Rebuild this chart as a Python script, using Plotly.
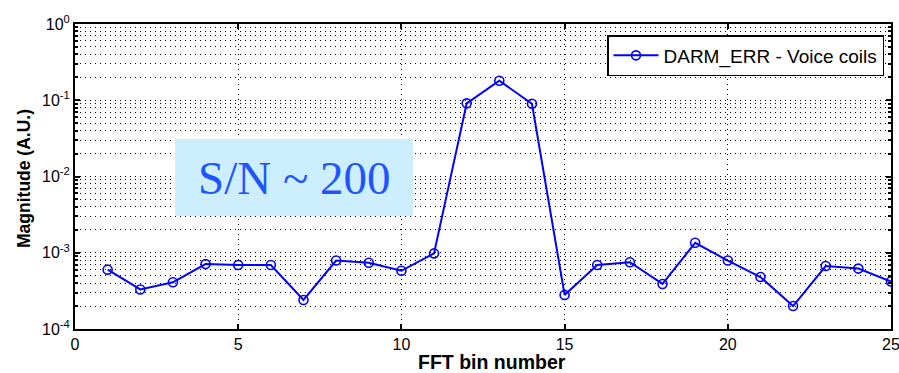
import plotly.graph_objects as go

bins = list(range(1, 26))
magnitude = [6.0e-4, 3.3e-4, 4.1e-4, 7.1e-4, 6.9e-4, 6.9e-4, 2.4e-4, 7.9e-4, 7.4e-4, 5.8e-4,
             9.8e-4, 0.091, 0.18, 0.09, 2.8e-4, 6.9e-4, 7.5e-4, 3.9e-4, 1.35e-3, 7.9e-4,
             4.8e-4, 2.0e-4, 6.7e-4, 6.2e-4, 4.2e-4]
series_name = "DARM_ERR - Voice coils"
y_tickvals = [1e-4, 1e-3, 1e-2, 1e-1, 1]
y_ticktext = ["10<sup>-4</sup>", "10<sup>-3</sup>", "10<sup>-2</sup>", "10<sup>-1</sup>", "10<sup>0</sup>"]
x_tickvals = [0, 5, 10, 15, 20, 25]
minor_vals = [m * 10 ** e for e in range(-4, 0) for m in range(2, 10)]

font_family = "Liberation Sans, Arial, sans-serif"
blue = "#0000ff"

# body margin is removed by post_script, so the figure fills the window
W, H = 899, 373
L, T = 75, 24
R = W - 891
B = H - 329
PW, PH = W - L - R, H - T - B


def px(xs):
    return (xs - L) / PW


def py(ys):
    return (H - B - ys) / PH


fig = go.Figure()
fig.add_trace(go.Scatter(
    x=bins, y=magnitude, mode="lines+markers", name=series_name,
    line=dict(color=blue, width=2),
    marker=dict(symbol="circle-open", size=9, color=blue, line=dict(width=1.6, color=blue)),
))

grid = dict(showgrid=True, gridcolor="black", gridwidth=1, griddash="1px,4px")

fig.update_layout(
    width=W, height=H,
    margin=dict(l=L, r=R, t=T, b=B, autoexpand=False),
    paper_bgcolor="white", plot_bgcolor="white",
    font=dict(family=font_family, color="black", size=16),
    showlegend=True,
    legend=dict(x=px(884), y=py(35), xanchor="right", yanchor="top",
                bgcolor="white", bordercolor="black", borderwidth=1.5,
                font=dict(size=19, family=font_family),
                tracegroupgap=0, itemwidth=45),
    xaxis=dict(range=[0, 25], tickvals=x_tickvals, ticks="inside", ticklen=5,
               tickwidth=1.5, tickcolor="black", automargin=False,
               ticklabeloverflow="allow",
               showline=True, linecolor="black", linewidth=2, mirror="ticks",
               zeroline=False, tickfont=dict(size=16), **grid),
    yaxis=dict(type="log", range=[-4, 0], tickvals=y_tickvals, ticktext=y_ticktext,
               ticks="inside", ticklen=5, tickwidth=1.5, tickcolor="black", automargin=False,
               ticklabeloverflow="allow",
               showline=True, linecolor="black", linewidth=2, mirror="ticks",
               zeroline=False, tickfont=dict(size=16),
               minor=dict(tickvals=minor_vals, ticks="inside", ticklen=3, tickcolor="black",
                          showgrid=True, gridcolor="black", gridwidth=1, griddash="1px,4px"),
               **grid),
)

# axis titles
fig.add_annotation(xref="paper", yref="paper", x=px(492), y=py(362),
                   text="<b>FFT bin number</b>", showarrow=False, xanchor="center", yanchor="middle",
                   font=dict(size=19.5, family=font_family))
fig.add_annotation(xref="paper", yref="paper", x=px(24), y=py(179),
                   text="<b>Magnitude (A.U.)</b>", showarrow=False, xanchor="center", yanchor="middle",
                   textangle=-90, font=dict(size=17.5, family=font_family))

# S/N annotation box
fig.add_shape(type="rect", xref="paper", yref="paper",
              x0=px(175), x1=px(413), y0=py(216), y1=py(139),
              fillcolor="#cdeeff", line=dict(width=0), layer="above")
fig.add_annotation(xref="paper", yref="paper", x=px(294), y=py(178),
                   xanchor="center", yanchor="middle",
                   text="S/N ~ 200", showarrow=False,
                   font=dict(family="Liberation Serif, Times New Roman, serif", size=47, color="#1f55ff"))

fig.write_html("out.html",
               config={"displayModeBar": False},
               post_script="document.body.style.margin='0';document.body.style.overflow='hidden';")
